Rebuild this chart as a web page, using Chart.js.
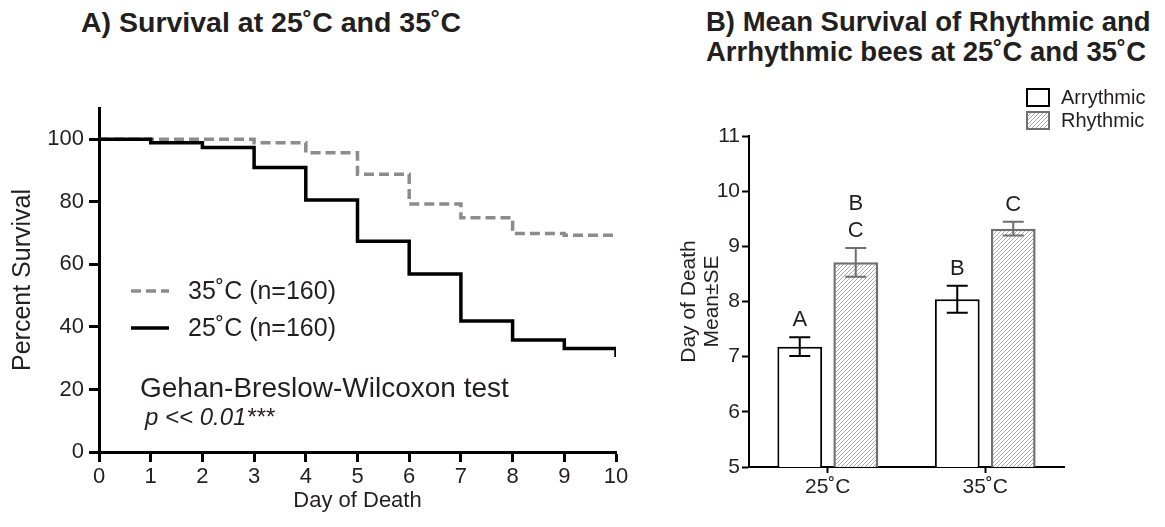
<!DOCTYPE html>
<html>
<head>
<meta charset="utf-8">
<script src="https://cdn.jsdelivr.net/npm/chart.js@4.4.1/dist/chart.umd.min.js"></script>
<style>
  body { margin: 0; background: #fff; width: 1165px; height: 527px; position: relative; overflow: hidden;
         font-family: 'Liberation Sans', Arial, sans-serif; color: #231f20; }
  .title { position: absolute; font-weight: bold; font-size: 28.5px; line-height: 30px; white-space: nowrap; }
  canvas { position: absolute; top: 0; }
</style>
</head>
<body>
<div class="title" style="left:81px; top:7px;">A) Survival at 25˚C and 35˚C</div>
<div class="title" style="left:706px; top:7px; font-size:27.5px;">B) Mean Survival of Rhythmic and<br>Arrhythmic bees at 25˚C and 35˚C</div>
<canvas id="survival" width="640" height="527" style="left:0"></canvas>
<canvas id="means" width="525" height="527" style="left:640px"></canvas>
<script>
// panel A - Kaplan-Meier style survival
const days = [0, 1, 2, 3, 4, 5, 6, 7, 8, 9, 10];
const survival25 = [100, 98.9, 97.4, 91.0, 80.6, 67.4, 56.9, 41.9, 35.8, 33.1, 30.4];
const survival35 = [100, 100, 100, 98.9, 95.7, 88.8, 79.3, 74.9, 69.9, 69.3, 69.3];
const survivalTicks = [0, 20, 40, 60, 80, 100];
const survivalLabels = ['35˚C (n=160)', '25˚C (n=160)'];

// panel B - mean day of death
const groups = ['25˚C', '35˚C'];
const arrMean = [7.18, 8.04];
const arrSE = [0.17, 0.245];
const rhyMean = [8.71, 9.32];
const rhySE = [0.26, 0.125];
const arrLetters = [['A'], ['B']];
const rhyLetters = [['B', 'C'], ['C']];
const deathTicks = [5, 6, 7, 8, 9, 10, 11];

const ink = '#231f20';
const font = "'Liberation Sans', Arial, sans-serif";

function makeHatch() {
    const c = document.createElement('canvas');
    c.width = 4; c.height = 4;
    const g = c.getContext('2d');
    g.fillStyle = '#fff';
    g.fillRect(0, 0, 4, 4);
    g.strokeStyle = '#a2a2a2';
    g.lineWidth = 0.9;
    g.beginPath();
    g.moveTo(0, 4); g.lineTo(4, 0);
    g.moveTo(-1, 1); g.lineTo(1, -1);
    g.moveTo(3, 5); g.lineTo(5, 3);
    g.stroke();
    return g.createPattern(c, 'repeat');
}
const hatch = makeHatch();

function axis(width, tickLen) {
    return {
        grid: { drawOnChartArea: false, drawTicks: true, tickLength: tickLen, tickWidth: width, tickColor: '#000' },
        border: { display: true, color: '#000', width: width }
    };
}

// legend + test text drawn inside panel A
const survivalNotes = {
    id: 'survivalNotes',
    afterDraw(chart) {
        const ctx = chart.ctx;
        const rows = [
            { ds: chart.data.datasets[1], y: 291 },
            { ds: chart.data.datasets[0], y: 328 }
        ];
        ctx.save();
        rows.forEach(r => {
            ctx.strokeStyle = r.ds.borderColor;
            ctx.lineWidth = r.ds.borderWidth;
            ctx.setLineDash(r.ds.borderDash || []);
            ctx.beginPath();
            ctx.moveTo(131, r.y);
            ctx.lineTo(169, r.y);
            ctx.stroke();
            ctx.setLineDash([]);
            ctx.fillStyle = ink;
            ctx.font = '25px ' + font;
            ctx.textBaseline = 'middle';
            ctx.fillText(r.ds.label, 188, r.y + 1);
        });
        ctx.font = '28px ' + font;
        ctx.fillText('Gehan-Breslow-Wilcoxon test', 140, 389);
        ctx.font = 'italic 24px ' + font;
        ctx.fillText('p << 0.01***', 145, 418);
        ctx.restore();
    }
};

new Chart(document.getElementById('survival'), {
    type: 'line',
    data: {
        datasets: [
            {
                label: survivalLabels[1],
                data: days.map((d, i) => ({ x: d, y: survival25[i] })),
                borderColor: '#000', borderWidth: 3.5, stepped: 'before', pointRadius: 0, order: 1
            },
            {
                label: survivalLabels[0],
                data: days.map((d, i) => ({ x: d, y: survival35[i] })),
                borderColor: '#8c8c8c', borderWidth: 3.5, borderDash: [10, 5], stepped: 'before', pointRadius: 0, order: 2
            }
        ]
    },
    options: {
        responsive: false,
        animation: false,
        layout: { padding: { top: 108, right: 24, left: 0, bottom: 0 } },
        plugins: { legend: { display: false }, tooltip: { enabled: false } },
        scales: {
            x: {
                type: 'linear', min: 0, max: 10,
                ...axis(3, 10),
                afterBuildTicks: s => { s.ticks = days.map(v => ({ value: v })); },
                afterFit: s => { s.height = 75; },
                ticks: { color: ink, font: { size: 22, family: font }, padding: 2 },
                title: { display: true, text: 'Day of Death', color: ink, font: { size: 22, family: font }, padding: { bottom: 13 } }
            },
            y: {
                min: 0, max: 110,
                ...axis(3, 10),
                afterBuildTicks: s => { s.ticks = survivalTicks.map(v => ({ value: v })); },
                afterFit: s => { s.width = 99; },
                ticks: { color: ink, font: { size: 22, family: font }, padding: 5 },
                title: { display: true, text: 'Percent Survival', color: ink, font: { size: 25, family: font }, padding: { top: 8 } }
            }
        }
    },
    plugins: [survivalNotes]
});

// error bars, letters and legend for panel B
const barExtras = {
    id: 'barExtras',
    afterDatasetsDraw(chart) {
        const ctx = chart.ctx;
        const y = chart.scales.y;
        const sets = [
            { mean: arrMean, se: arrSE, letters: arrLetters, color: '#000' },
            { mean: rhyMean, se: rhySE, letters: rhyLetters, color: '#6f6f6f' }
        ];
        ctx.save();
        sets.forEach((set, di) => {
            chart.getDatasetMeta(di).data.forEach((bar, i) => {
                const top = y.getPixelForValue(set.mean[i] + set.se[i]);
                const bot = y.getPixelForValue(set.mean[i] - set.se[i]);
                ctx.strokeStyle = set.color;
                ctx.lineWidth = 2;
                ctx.beginPath();
                ctx.moveTo(bar.x, top); ctx.lineTo(bar.x, bot);
                ctx.moveTo(bar.x - 10.5, top); ctx.lineTo(bar.x + 10.5, top);
                ctx.moveTo(bar.x - 10.5, bot); ctx.lineTo(bar.x + 10.5, bot);
                ctx.stroke();
                ctx.fillStyle = ink;
                ctx.font = '22px ' + font;
                ctx.textAlign = 'center';
                ctx.textBaseline = 'middle';
                const ls = set.letters[i];
                ls.forEach((t, k) => {
                    ctx.fillText(t, bar.x, top - 17 - (ls.length - 1 - k) * 27);
                });
            });
        });
        // legend
        const rows = [
            { ds: chart.data.datasets[0], y: 89 },
            { ds: chart.data.datasets[1], y: 112 }
        ];
        rows.forEach(r => {
            ctx.fillStyle = r.ds.backgroundColor;
            ctx.fillRect(387, r.y, 22, 17);
            ctx.strokeStyle = r.ds.borderColor;
            ctx.lineWidth = 2;
            ctx.strokeRect(387, r.y, 22, 17);
            ctx.fillStyle = ink;
            ctx.font = '20px ' + font;
            ctx.textAlign = 'left';
            ctx.textBaseline = 'middle';
            ctx.fillText(r.ds.label, 421, r.y + 9);
        });
        ctx.restore();
    }
};

new Chart(document.getElementById('means'), {
    type: 'bar',
    data: {
        labels: groups,
        datasets: [
            { label: 'Arrythmic', data: arrMean, backgroundColor: '#fff', borderColor: '#000', borderWidth: 2,
              borderSkipped: 'bottom', categoryPercentage: 0.711, barPercentage: 0.8 },
            { label: 'Rhythmic', data: rhyMean, backgroundColor: hatch, borderColor: '#6f6f6f', borderWidth: 2.5,
              borderSkipped: 'bottom', categoryPercentage: 0.711, barPercentage: 0.8 }
        ]
    },
    options: {
        responsive: false,
        animation: false,
        layout: { padding: { top: 136, right: 101, left: 0, bottom: 0 } },
        plugins: { legend: { display: false }, tooltip: { enabled: false } },
        scales: {
            x: {
                ...axis(2, 6),
                grid: { drawOnChartArea: false, offset: false, tickLength: 6, tickWidth: 2, tickColor: '#000' },
                afterFit: s => { s.height = 60; },
                ticks: { color: ink, font: { size: 21, family: font }, padding: 2 }
            },
            y: {
                min: 5, max: 11,
                ...axis(2, 7),
                afterBuildTicks: s => { s.ticks = deathTicks.map(v => ({ value: v })); },
                afterFit: s => { s.width = 109; },
                ticks: { color: ink, font: { size: 21, family: font }, padding: 2 },
                title: { display: true, text: ['Day of Death', 'Mean±SE'], color: ink,
                         font: { size: 21, family: font, lineHeight: 1.1 }, padding: { top: 38 } }
            }
        }
    },
    plugins: [barExtras]
});
</script>
</body>
</html>
